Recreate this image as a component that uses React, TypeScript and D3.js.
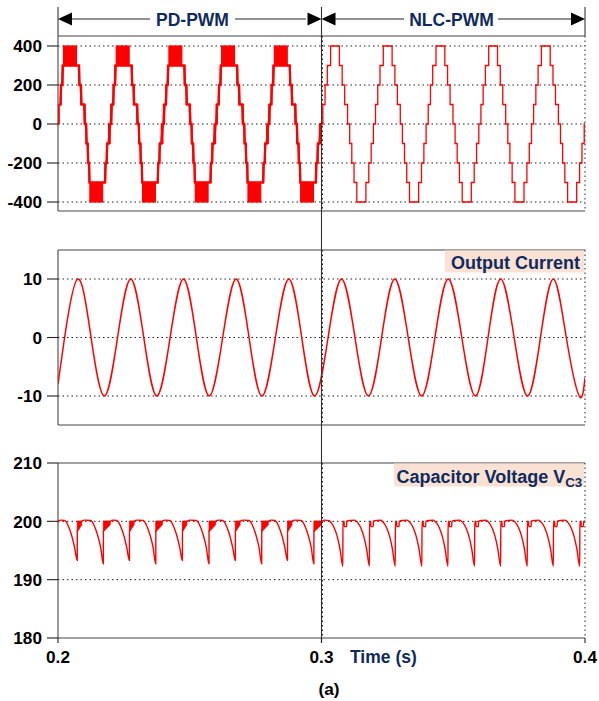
import React from "react";
import * as d3 from "d3";

// ---------- data ----------
// Top panel: output voltage (V)
const voltTicks = [400, 200, 0, -200, -400];
const pdCycleStarts = [0.2, 0.22, 0.24, 0.26, 0.28];
const nlcCycleStarts = [0.3, 0.32, 0.34, 0.36, 0.38];
// PD-PWM pattern for one cycle: [t0 ms, t1 ms, low, high] (low==high: held level, else PWM band)
const pdSegments: [number, number, number, number][] = [
  [0.0, 0.45, 0, 100],
  [0.45, 0.9, 100, 100],
  [0.9, 1.2, 100, 200],
  [1.2, 1.55, 200, 200],
  [1.55, 1.9, 200, 300],
  [1.9, 2.1, 300, 300],
  [2.1, 7.0, 300, 400],
  [7.0, 7.9, 300, 300],
  [7.9, 8.2, 200, 300],
  [8.2, 8.6, 200, 200],
  [8.6, 8.95, 100, 200],
  [8.95, 9.9, 100, 100],
  [9.9, 10.3, 0, 100],
  [10.3, 10.6, 0, 0],
  [10.6, 10.9, -100, 0],
  [10.9, 11.2, -100, -100],
  [11.2, 11.5, -200, -100],
  [11.5, 11.75, -200, -200],
  [11.75, 12.0, -300, -200],
  [12.0, 12.1, -300, -300],
  [12.1, 16.95, -400, -300],
  [16.95, 17.8, -300, -300],
  [17.8, 18.1, -300, -200],
  [18.1, 18.4, -200, -200],
  [18.4, 18.7, -200, -100],
  [18.7, 19.2, -100, -100],
  [19.2, 19.8, -100, 0],
  [19.8, 20.0, 0, 0],
];
// NLC-PWM switching instants (ms within a cycle) and the level after each switch
const nlcTimes = [0.5, 1.35, 2.2, 3.45, 6.8, 7.85, 8.8, 9.9, 10.7, 11.5, 12.35, 13.4, 16.85, 17.95, 18.85, 19.7];
const nlcLevels = [100, 200, 300, 400, 300, 200, 100, 0, -100, -200, -300, -400, -300, -200, -100, 0];

// Middle panel: output current (A), read at extrema / zero crossings (ms after 0.2 s)
const currentTicks = [10, 0, -10];
const currentMs = [0, 2.5, 7.5, 12.55, 17.6, 22.6, 27.6, 32.55, 37.5, 42.55, 47.6, 52.5, 57.4, 62.5, 67.6, 72.5, 77.4, 82.5, 87.6, 92.5, 97.4, 102.5, 107.6, 112.7, 117.8, 122.8, 127.8, 132.9, 138.0, 143.05, 148.1, 153.25, 158.4, 163.2, 168.0, 173.1, 178.2, 183.1, 188.0, 192.9, 197.8, 200];
const currentVals = [-7.9, 0, 10, 0, -10, 0, 10, 0, -10, 0, 10, 0, -10, 0, 10, 0, -10, 0, 10, 0, -10, 0, 10, 0, -10, 0, 10, 0, -10, 0, 10, 0, -10, 0, 10, 0, -10, 0, 10, 0, -10, -6.9];

// Bottom panel: capacitor voltage VC3 (V)
const capTicks = [210, 200, 190, 180];
const pdDipMs = [-2.7, 7.3, 17.2, 27.1, 37.1, 47.2, 57.3, 67.3, 77.3, 87.1, 97.1];
const pdDipVals = [192.7, 193.3, 192.7, 193.3, 192.7, 193.3, 192.7, 193.3, 192.7, 193.3, 192.7];
const pdBlockMs = [2.6, 1.7, 2.6, 1.8, 2.5, 1.7, 2.5, 1.8, 2.5, 1.7, 2.9];
const nlcDipMs = [108.1, 118.2, 128.0, 138.1, 148.0, 158.1, 168.0, 178.1, 188.0, 198.0];
const nlcDipVals = [192.3, 192.3, 192.3, 192.3, 192.3, 192.3, 192.3, 192.3, 192.3, 192.3];
// shapes after a dip (offset ms, value) and before the next dip (offset ms, value)
const pdFall: [number, number][] = [[-4.8, 200.15], [-4.2, 199.9], [-3.4, 199.2], [-2.2, 197.7], [-1.0, 195.5]];
const nlcRise: [number, number][] = [[0.03, 200.0], [0.5, 200.0], [0.53, 199.1], [1.45, 199.1], [1.48, 200.0], [3.0, 200.15], [4.4, 200.2]];
const nlcFall: [number, number][] = [[-5.2, 200.1], [-4.3, 199.7], [-3.3, 198.9], [-2.2, 197.5], [-1.1, 195.3]];

const timeTicks = [0.2, 0.3, 0.4];

// ---------- layout ----------
const W = 599, H = 701;
const X0 = 58, X1 = 585;
const RED = "#ff0000";
const NAVY = "#0f2a5c";
const PEACH = "#f9e2d3";
const FONT = "'Liberation Sans', Arial, Helvetica, sans-serif";

const x = d3.scaleLinear().domain([0.2, 0.4]).range([X0, X1]);
const yV = d3.scaleLinear().domain([-400, 400]).range([202, 46]);
const yI = d3.scaleLinear().domain([-10, 10]).range([396, 279]);
const yC = d3.scaleLinear().domain([180, 210]).range([638, 463]);

const panels = [
  { id: "p1", top: 36, bottom: 211, scale: yV, ticks: voltTicks },
  { id: "p2", top: 250, bottom: 425, scale: yI, ticks: currentTicks },
  { id: "p3", top: 463, bottom: 638, scale: yC, ticks: capTicks },
];

function buildPD() {
  const holds: [number, number][] = [];
  const bands: { t0: number; t1: number; lo: number; hi: number }[] = [];
  pdCycleStarts.forEach((cs) => {
    pdSegments.forEach(([a, b, lo, hi]) => {
      const t0 = cs + a / 1000, t1 = cs + b / 1000;
      if (lo === hi) {
        holds.push([t0, lo], [t1, lo]);
      } else {
        bands.push({ t0, t1, lo, hi });
      }
    });
  });
  return { holds, bands };
}

function buildNLC() {
  const pts: [number, number][] = [];
  nlcCycleStarts.forEach((cs) => {
    pts.push([cs, 0]);
    nlcTimes.forEach((t, i) => pts.push([cs + t / 1000, nlcLevels[i]]));
  });
  pts.push([0.4, 0]);
  return pts;
}

function buildCap() {
  type Dip = { t: number; v: number; kind: "pd" | "nlc"; block: number };
  const dips: Dip[] = [];
  pdDipMs.forEach((t, i) => dips.push({ t, v: pdDipVals[i], kind: "pd", block: pdBlockMs[i] }));
  nlcDipMs.forEach((t, i) => dips.push({ t, v: nlcDipVals[i], kind: "nlc", block: 0 }));
  const pts: [number, number][] = [];
  const blocks: { t0: number; t1: number }[] = [];
  dips.forEach((d, i) => {
    const next = dips[i + 1];
    if (i > 0) {
      const fall = d.kind === "pd" ? pdFall : nlcFall;
      fall.forEach(([o, v]) => pts.push([d.t + o, v]));
    }
    pts.push([d.t, d.v]);
    if (d.kind === "pd") {
      pts.push([d.t + 0.03, 198.3]);
      pts.push([d.t + d.block, 200.0]);
      pts.push([d.t + d.block + 1.2, 200.2]);
      blocks.push({ t0: d.t, t1: d.t + d.block });
    } else {
      nlcRise.forEach(([o, v]) => pts.push([d.t + o, v]));
    }
    if (!next) pts.push([d.t + 12, 200.1]);
  });
  pts.sort((a, b) => a[0] - b[0]);
  const clean: [number, number][] = [];
  pts.forEach((p) => {
    if (!clean.length || p[0] > clean[clean.length - 1][0]) clean.push(p);
  });
  return {
    pts: clean.map(([t, v]) => [0.2 + t / 1000, v] as [number, number]),
    blocks: blocks.map((b) => ({ t0: 0.2 + b.t0 / 1000, t1: 0.2 + b.t1 / 1000 })),
  };
}

export default function App() {
  const pd = buildPD();
  const nlc = buildNLC();
  const cap = buildCap();

  const pdLine = d3.line<[number, number]>().x((d) => x(d[0])).y((d) => yV(d[1]));
  const nlcLine = d3.line<[number, number]>().x((d) => x(d[0])).y((d) => yV(d[1])).curve(d3.curveStepAfter);
  const curLine = d3
    .line<number>()
    .x((_, i) => x(0.2 + currentMs[i] / 1000))
    .y((d) => yI(d))
    .curve(d3.curveNatural);
  const capLine = d3.line<[number, number]>().x((d) => x(d[0])).y((d) => yC(d[1])).curve(d3.curveMonotoneX);
  const capBlock = d3
    .area<[number, number]>()
    .x((d) => x(d[0]))
    .y0((d) => yC(d[1]))
    .y1(() => yC(200.05));

  const tickLabel = { fontFamily: FONT, fontWeight: 700, fontSize: 17.2, fill: "#000" } as const;

  return (
    <svg width={W} height={H} style={{ position: "absolute", left: 0, top: 0, background: "#fff" }}>
      <defs>
        {panels.map((p) => (
          <clipPath id={`clip-${p.id}`} key={p.id}>
            <rect x={X0} y={p.top} width={X1 - X0} height={p.bottom - p.top} />
          </clipPath>
        ))}
      </defs>

      {/* header arrows */}
      <g stroke="#222" strokeWidth={1}>
        <line x1={X0} x2={X0} y1={7} y2={36} />
        <line x1={X1} x2={X1} y1={7} y2={36} />
        <line x1={72} x2={150} y1={19} y2={19} />
        <line x1={235} x2={306} y1={19} y2={19} />
        <line x1={335} x2={404} y1={19} y2={19} />
        <line x1={498} x2={571} y1={19} y2={19} />
      </g>
      <g fill="#000">
        <path d={`M${X0},19 L${X0 + 14},12.5 L${X0 + 14},25.5 Z`} />
        <path d={`M${x(0.3)},19 L${x(0.3) - 14},12.5 L${x(0.3) - 14},25.5 Z`} />
        <path d={`M${x(0.3)},19 L${x(0.3) + 14},12.5 L${x(0.3) + 14},25.5 Z`} />
        <path d={`M${X1},19 L${X1 - 14},12.5 L${X1 - 14},25.5 Z`} />
      </g>
      <text x={192.5} y={25.5} textAnchor="middle" fontFamily={FONT} fontWeight={700} fontSize={17.5} fill={NAVY}>
        PD-PWM
      </text>
      <text x={451.5} y={25.5} textAnchor="middle" fontFamily={FONT} fontWeight={700} fontSize={17.5} fill={NAVY}>
        NLC-PWM
      </text>

      {/* panels */}
      {panels.map((p) => (
        <g key={p.id}>
          <g stroke="#222" strokeWidth={1} strokeDasharray="1.5,3">
            {p.ticks
              .filter((t) => p.scale(t) > p.top + 1 && p.scale(t) < p.bottom - 1)
              .map((t) => (
                <line key={t} x1={X0} x2={X1} y1={p.scale(t)} y2={p.scale(t)} />
              ))}
            <line x1={x(0.3) + 1} x2={x(0.3) + 1} y1={p.top} y2={p.bottom} />
            <line x1={X1} x2={X1} y1={p.top} y2={p.bottom} />
          </g>
          <g stroke="#444" strokeWidth={1.1}>
            <line x1={X0} x2={X1} y1={p.top} y2={p.top} />
            <line x1={X0} x2={X1} y1={p.bottom} y2={p.bottom} />
            <line x1={X0} x2={X0} y1={p.top} y2={p.bottom} />
          </g>
          {p.ticks.map((t) => (
            <g key={t}>
              <line x1={47} x2={X0} y1={p.scale(t)} y2={p.scale(t)} stroke="#222" strokeWidth={1.1} />
              <text x={42} y={p.scale(t)} dy="0.36em" textAnchor="end" {...tickLabel}>
                {t}
              </text>
            </g>
          ))}
        </g>
      ))}

      {/* top panel waveform */}
      <g clipPath="url(#clip-p1)">
        {pd.bands.map((b, i) => (
          <rect
            key={i}
            x={x(b.t0)}
            y={yV(b.hi)}
            width={x(b.t1) - x(b.t0)}
            height={yV(b.lo) - yV(b.hi)}
            fill={RED}
            stroke={RED}
            strokeWidth={1.2}
          />
        ))}
        <path d={pdLine(pd.holds) || ""} fill="none" stroke={RED} strokeWidth={2.3} />
        <path d={nlcLine(nlc) || ""} fill="none" stroke={RED} strokeWidth={1.3} />
      </g>

      {/* middle panel */}
      <g clipPath="url(#clip-p2)">
        <path d={curLine(currentVals) || ""} fill="none" stroke={RED} strokeWidth={1.5} />
      </g>
      <rect x={445} y={250.5} width={139} height={22} fill={PEACH} />
      <text x={451} y={269} fontFamily={FONT} fontWeight={700} fontSize={18} fill={NAVY}>
        Output Current
      </text>

      {/* bottom panel */}
      <g clipPath="url(#clip-p3)">
        {cap.blocks.map((b, i) => (
          <path
            key={i}
            d={
              capBlock([
                [b.t0, 198.2],
                [b.t0 + (b.t1 - b.t0) * 0.6, 198.9],
                [b.t1, 199.4],
              ]) || ""
            }
            fill={RED}
            stroke={RED}
            strokeWidth={0.8}
          />
        ))}
        <path d={capLine(cap.pts) || ""} fill="none" stroke={RED} strokeWidth={1.4} />
      </g>
      <rect x={394} y={463.5} width={190} height={23} fill={PEACH} />
      <text x={396.5} y={483} fontFamily={FONT} fontWeight={700} fontSize={18} fill={NAVY}>
        Capacitor Voltage V
        <tspan fontSize={13.3} dy={4}>
          C3
        </tspan>
      </text>

      {/* central solid divider */}
      <line x1={x(0.3)} x2={x(0.3)} y1={7} y2={643} stroke="#333" strokeWidth={1.1} />

      {/* x ticks */}
      {timeTicks.map((t) => (
        <g key={t}>
          <line x1={x(t)} x2={x(t)} y1={638} y2={643} stroke="#222" strokeWidth={1.1} />
          <text x={x(t)} y={663} textAnchor="middle" {...tickLabel}>
            {t.toFixed(1)}
          </text>
        </g>
      ))}
      <text x={350} y={663} fontFamily={FONT} fontWeight={700} fontSize={17.5} fill={NAVY}>
        Time (s)
      </text>
      <text x={329} y={695} textAnchor="middle" {...tickLabel}>
        (a)
      </text>
    </svg>
  );
}
